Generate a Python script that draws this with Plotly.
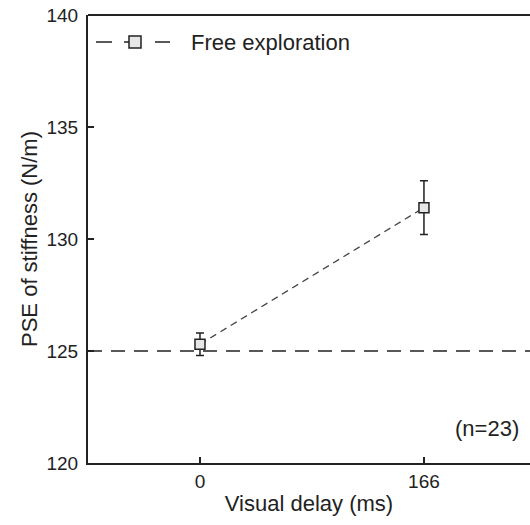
import plotly.graph_objects as go

# Data
delays = [0, 166]                 # visual delay (ms)
pse_mean = [125.3, 131.4]         # PSE of stiffness (N/m)
pse_err = [0.5, 1.2]              # error bar half-length
ref_level = 125                   # reference stiffness
series_name = "Free exploration"
n_label = "(n=23)"
y_ticks = [120, 125, 130, 135, 140]
x_ticks = [0, 166]

FONT = "Liberation Sans, Arial, sans-serif"
INK = "#222222"

fig = go.Figure()

fig.add_hline(y=ref_level, line=dict(color=INK, width=1.5, dash="14px,9px"))

fig.add_trace(go.Scatter(
    x=delays, y=pse_mean,
    mode="lines+markers",
    name=series_name,
    line=dict(color="#444444", width=1.3, dash="7px,5px"),
    marker=dict(symbol="square", size=10, color="#e6e6e6",
                line=dict(color=INK, width=1.5)),
    error_y=dict(type="data", array=pse_err, visible=True,
                 color=INK, thickness=1.5, width=4),
    showlegend=False,
))

# Legend sample drawn by hand: dash, square, dash
for x0, x1 in [(8, 24), (67, 82)]:
    fig.add_shape(type="line", xref="paper", yref="paper",
                  xsizemode="pixel", ysizemode="pixel",
                  xanchor=0, yanchor=1, x0=x0, x1=x1, y0=-27, y1=-27,
                  line=dict(color=INK, width=1.5))
fig.add_shape(type="line", xref="paper", yref="paper",
              xsizemode="pixel", ysizemode="pixel",
              xanchor=0, yanchor=1, x0=36, x1=41, y0=-27, y1=-27,
              line=dict(color=INK, width=1.5))
fig.add_shape(type="rect", xref="paper", yref="paper",
              xsizemode="pixel", ysizemode="pixel",
              xanchor=0, yanchor=1, x0=41, x1=53, y0=-33, y1=-21,
              fillcolor="#e6e6e6", line=dict(color=INK, width=1.5))
fig.add_annotation(text=series_name, xref="paper", yref="paper",
                   x=0, y=1, xanchor="left", yanchor="middle",
                   xshift=101, yshift=-27, showarrow=False,
                   font=dict(family=FONT, size=22, color=INK))

fig.add_annotation(text=n_label, xref="paper", yref="paper",
                   x=1, y=(463 - 428) / 448, xanchor="right", yanchor="middle",
                   xshift=-9, showarrow=False,
                   font=dict(family=FONT, size=22, color=INK))

# Top frame line
fig.add_shape(type="line", xref="paper", yref="paper", x0=0, x1=1, y0=1, y1=1,
              line=dict(color=INK, width=2))

fig.update_xaxes(
    range=[-83, 244.6], tickvals=x_ticks, ticktext=[str(v) for v in x_ticks],
    ticks="inside", ticklen=6, tickwidth=1.5, tickcolor=INK,
    showline=True, linecolor=INK, linewidth=2, showgrid=False, zeroline=False,
    tickfont=dict(family=FONT, size=19, color=INK),
    title=dict(text="Visual delay (ms)", standoff=5,
               font=dict(family=FONT, size=22, color=INK)),
)
fig.update_yaxes(
    range=[120, 140], tickvals=y_ticks,
    ticks="inside", ticklen=6, tickwidth=1.5, tickcolor=INK,
    showline=True, linecolor=INK, linewidth=2, showgrid=False, zeroline=False,
    ticklabelstandoff=4,
    tickfont=dict(family=FONT, size=19, color=INK),
    title=dict(text="PSE of stiffness (N/m)", standoff=3,
               font=dict(family=FONT, size=22, color=INK)),
)

fig.update_layout(
    width=530, height=525,
    margin=dict(l=88, r=0, t=15, b=62),
    paper_bgcolor="white", plot_bgcolor="white",
    font=dict(family=FONT, color=INK),
)

fig.write_html("out.html")
